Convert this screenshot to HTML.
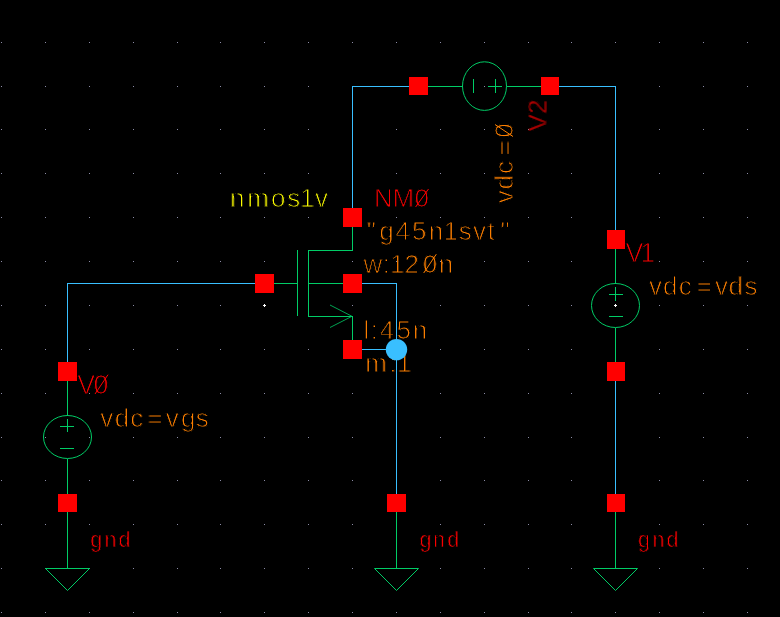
<!DOCTYPE html>
<html lang="en">
<head>
<meta charset="utf-8">
<title>nmos1v test schematic</title>
<style>
html,body{margin:0;padding:0;background:#000;}
body{width:780px;height:617px;overflow:hidden;}
svg{display:block;}
.w{stroke:#39bfff;stroke-width:1;fill:none;shape-rendering:crispEdges;}
.g{stroke:#00cc66;stroke-width:1;fill:none;shape-rendering:crispEdges;}
.ga{stroke:#00cc66;stroke-width:1;fill:none;}
.p{fill:#ff0000;shape-rendering:crispEdges;}
.d{fill:#8c8ca6;shape-rendering:crispEdges;}
text{font-family:"Liberation Sans",sans-serif;stroke:#000;}
.o{fill:#ff8000;}
.r{fill:#ff0000;}
.y{fill:#ffff00;}
</style>
</head>
<body>
<svg width="780" height="617" viewBox="0 0 780 617">
<defs>
<filter id="fo" filterUnits="userSpaceOnUse" x="0" y="0" width="780" height="617" color-interpolation-filters="sRGB">
<feColorMatrix in="SourceGraphic" type="matrix" values="0 0 0 0 0  0 0 0 0 0  0 0 0 0 0  1 0 0 0 0" result="m"/>
<feComponentTransfer in="m" result="t"><feFuncA type="gamma" amplitude="1.1" exponent="0.6" offset="0"/></feComponentTransfer>
<feFlood flood-color="#ff8000"/><feComposite in2="t" operator="in"/>
</filter>
<filter id="fr" filterUnits="userSpaceOnUse" x="0" y="0" width="780" height="617" color-interpolation-filters="sRGB">
<feColorMatrix in="SourceGraphic" type="matrix" values="0 0 0 0 0  0 0 0 0 0  0 0 0 0 0  1 0 0 0 0" result="m"/>
<feComponentTransfer in="m" result="t"><feFuncA type="gamma" amplitude="1.1" exponent="0.6" offset="0"/></feComponentTransfer>
<feFlood flood-color="#ff0000"/><feComposite in2="t" operator="in"/>
</filter>
<filter id="fy" filterUnits="userSpaceOnUse" x="0" y="0" width="780" height="617" color-interpolation-filters="sRGB">
<feColorMatrix in="SourceGraphic" type="matrix" values="0 0 0 0 0  0 0 0 0 0  0 0 0 0 0  1 0 0 0 0" result="m"/>
<feComponentTransfer in="m" result="t"><feFuncA type="gamma" amplitude="1.1" exponent="0.6" offset="0"/></feComponentTransfer>
<feFlood flood-color="#ffff00"/><feComposite in2="t" operator="in"/>
</filter>
</defs>
<rect x="0" y="0" width="780" height="617" fill="#000"/>
<g class="d">
<rect x="1" y="42" width="1" height="1"/><rect x="45" y="42" width="1" height="1"/><rect x="89" y="42" width="1" height="1"/><rect x="133" y="42" width="1" height="1"/><rect x="177" y="42" width="1" height="1"/><rect x="220" y="42" width="1" height="1"/><rect x="264" y="42" width="1" height="1"/><rect x="308" y="42" width="1" height="1"/><rect x="352" y="42" width="1" height="1"/><rect x="396" y="42" width="1" height="1"/><rect x="440" y="42" width="1" height="1"/><rect x="484" y="42" width="1" height="1"/><rect x="528" y="42" width="1" height="1"/><rect x="571" y="42" width="1" height="1"/><rect x="615" y="42" width="1" height="1"/><rect x="659" y="42" width="1" height="1"/><rect x="703" y="42" width="1" height="1"/><rect x="747" y="42" width="1" height="1"/>
<rect x="1" y="86" width="1" height="1"/><rect x="45" y="86" width="1" height="1"/><rect x="89" y="86" width="1" height="1"/><rect x="133" y="86" width="1" height="1"/><rect x="177" y="86" width="1" height="1"/><rect x="220" y="86" width="1" height="1"/><rect x="264" y="86" width="1" height="1"/><rect x="308" y="86" width="1" height="1"/><rect x="352" y="86" width="1" height="1"/><rect x="396" y="86" width="1" height="1"/><rect x="440" y="86" width="1" height="1"/><rect x="484" y="86" width="1" height="1"/><rect x="528" y="86" width="1" height="1"/><rect x="571" y="86" width="1" height="1"/><rect x="615" y="86" width="1" height="1"/><rect x="659" y="86" width="1" height="1"/><rect x="703" y="86" width="1" height="1"/><rect x="747" y="86" width="1" height="1"/>
<rect x="1" y="129" width="1" height="1"/><rect x="45" y="129" width="1" height="1"/><rect x="89" y="129" width="1" height="1"/><rect x="133" y="129" width="1" height="1"/><rect x="177" y="129" width="1" height="1"/><rect x="220" y="129" width="1" height="1"/><rect x="264" y="129" width="1" height="1"/><rect x="308" y="129" width="1" height="1"/><rect x="352" y="129" width="1" height="1"/><rect x="396" y="129" width="1" height="1"/><rect x="440" y="129" width="1" height="1"/><rect x="484" y="129" width="1" height="1"/><rect x="528" y="129" width="1" height="1"/><rect x="571" y="129" width="1" height="1"/><rect x="615" y="129" width="1" height="1"/><rect x="659" y="129" width="1" height="1"/><rect x="703" y="129" width="1" height="1"/><rect x="747" y="129" width="1" height="1"/>
<rect x="1" y="173" width="1" height="1"/><rect x="45" y="173" width="1" height="1"/><rect x="89" y="173" width="1" height="1"/><rect x="133" y="173" width="1" height="1"/><rect x="177" y="173" width="1" height="1"/><rect x="220" y="173" width="1" height="1"/><rect x="264" y="173" width="1" height="1"/><rect x="308" y="173" width="1" height="1"/><rect x="352" y="173" width="1" height="1"/><rect x="396" y="173" width="1" height="1"/><rect x="440" y="173" width="1" height="1"/><rect x="484" y="173" width="1" height="1"/><rect x="528" y="173" width="1" height="1"/><rect x="571" y="173" width="1" height="1"/><rect x="615" y="173" width="1" height="1"/><rect x="659" y="173" width="1" height="1"/><rect x="703" y="173" width="1" height="1"/><rect x="747" y="173" width="1" height="1"/>
<rect x="1" y="217" width="1" height="1"/><rect x="45" y="217" width="1" height="1"/><rect x="89" y="217" width="1" height="1"/><rect x="133" y="217" width="1" height="1"/><rect x="177" y="217" width="1" height="1"/><rect x="220" y="217" width="1" height="1"/><rect x="264" y="217" width="1" height="1"/><rect x="308" y="217" width="1" height="1"/><rect x="352" y="217" width="1" height="1"/><rect x="396" y="217" width="1" height="1"/><rect x="440" y="217" width="1" height="1"/><rect x="484" y="217" width="1" height="1"/><rect x="528" y="217" width="1" height="1"/><rect x="571" y="217" width="1" height="1"/><rect x="615" y="217" width="1" height="1"/><rect x="659" y="217" width="1" height="1"/><rect x="703" y="217" width="1" height="1"/><rect x="747" y="217" width="1" height="1"/>
<rect x="1" y="261" width="1" height="1"/><rect x="45" y="261" width="1" height="1"/><rect x="89" y="261" width="1" height="1"/><rect x="133" y="261" width="1" height="1"/><rect x="177" y="261" width="1" height="1"/><rect x="220" y="261" width="1" height="1"/><rect x="264" y="261" width="1" height="1"/><rect x="308" y="261" width="1" height="1"/><rect x="352" y="261" width="1" height="1"/><rect x="396" y="261" width="1" height="1"/><rect x="440" y="261" width="1" height="1"/><rect x="484" y="261" width="1" height="1"/><rect x="528" y="261" width="1" height="1"/><rect x="571" y="261" width="1" height="1"/><rect x="615" y="261" width="1" height="1"/><rect x="659" y="261" width="1" height="1"/><rect x="703" y="261" width="1" height="1"/><rect x="747" y="261" width="1" height="1"/>
<rect x="1" y="305" width="1" height="1"/><rect x="45" y="305" width="1" height="1"/><rect x="89" y="305" width="1" height="1"/><rect x="133" y="305" width="1" height="1"/><rect x="177" y="305" width="1" height="1"/><rect x="220" y="305" width="1" height="1"/><rect x="264" y="305" width="1" height="1"/><rect x="308" y="305" width="1" height="1"/><rect x="352" y="305" width="1" height="1"/><rect x="396" y="305" width="1" height="1"/><rect x="440" y="305" width="1" height="1"/><rect x="484" y="305" width="1" height="1"/><rect x="528" y="305" width="1" height="1"/><rect x="571" y="305" width="1" height="1"/><rect x="615" y="305" width="1" height="1"/><rect x="659" y="305" width="1" height="1"/><rect x="703" y="305" width="1" height="1"/><rect x="747" y="305" width="1" height="1"/>
<rect x="1" y="349" width="1" height="1"/><rect x="45" y="349" width="1" height="1"/><rect x="89" y="349" width="1" height="1"/><rect x="133" y="349" width="1" height="1"/><rect x="177" y="349" width="1" height="1"/><rect x="220" y="349" width="1" height="1"/><rect x="264" y="349" width="1" height="1"/><rect x="308" y="349" width="1" height="1"/><rect x="352" y="349" width="1" height="1"/><rect x="396" y="349" width="1" height="1"/><rect x="440" y="349" width="1" height="1"/><rect x="484" y="349" width="1" height="1"/><rect x="528" y="349" width="1" height="1"/><rect x="571" y="349" width="1" height="1"/><rect x="615" y="349" width="1" height="1"/><rect x="659" y="349" width="1" height="1"/><rect x="703" y="349" width="1" height="1"/><rect x="747" y="349" width="1" height="1"/>
<rect x="1" y="393" width="1" height="1"/><rect x="45" y="393" width="1" height="1"/><rect x="89" y="393" width="1" height="1"/><rect x="133" y="393" width="1" height="1"/><rect x="177" y="393" width="1" height="1"/><rect x="220" y="393" width="1" height="1"/><rect x="264" y="393" width="1" height="1"/><rect x="308" y="393" width="1" height="1"/><rect x="352" y="393" width="1" height="1"/><rect x="396" y="393" width="1" height="1"/><rect x="440" y="393" width="1" height="1"/><rect x="484" y="393" width="1" height="1"/><rect x="528" y="393" width="1" height="1"/><rect x="571" y="393" width="1" height="1"/><rect x="615" y="393" width="1" height="1"/><rect x="659" y="393" width="1" height="1"/><rect x="703" y="393" width="1" height="1"/><rect x="747" y="393" width="1" height="1"/>
<rect x="1" y="437" width="1" height="1"/><rect x="45" y="437" width="1" height="1"/><rect x="89" y="437" width="1" height="1"/><rect x="133" y="437" width="1" height="1"/><rect x="177" y="437" width="1" height="1"/><rect x="220" y="437" width="1" height="1"/><rect x="264" y="437" width="1" height="1"/><rect x="308" y="437" width="1" height="1"/><rect x="352" y="437" width="1" height="1"/><rect x="396" y="437" width="1" height="1"/><rect x="440" y="437" width="1" height="1"/><rect x="484" y="437" width="1" height="1"/><rect x="528" y="437" width="1" height="1"/><rect x="571" y="437" width="1" height="1"/><rect x="615" y="437" width="1" height="1"/><rect x="659" y="437" width="1" height="1"/><rect x="703" y="437" width="1" height="1"/><rect x="747" y="437" width="1" height="1"/>
<rect x="1" y="480" width="1" height="1"/><rect x="45" y="480" width="1" height="1"/><rect x="89" y="480" width="1" height="1"/><rect x="133" y="480" width="1" height="1"/><rect x="177" y="480" width="1" height="1"/><rect x="220" y="480" width="1" height="1"/><rect x="264" y="480" width="1" height="1"/><rect x="308" y="480" width="1" height="1"/><rect x="352" y="480" width="1" height="1"/><rect x="396" y="480" width="1" height="1"/><rect x="440" y="480" width="1" height="1"/><rect x="484" y="480" width="1" height="1"/><rect x="528" y="480" width="1" height="1"/><rect x="571" y="480" width="1" height="1"/><rect x="615" y="480" width="1" height="1"/><rect x="659" y="480" width="1" height="1"/><rect x="703" y="480" width="1" height="1"/><rect x="747" y="480" width="1" height="1"/>
<rect x="1" y="524" width="1" height="1"/><rect x="45" y="524" width="1" height="1"/><rect x="89" y="524" width="1" height="1"/><rect x="133" y="524" width="1" height="1"/><rect x="177" y="524" width="1" height="1"/><rect x="220" y="524" width="1" height="1"/><rect x="264" y="524" width="1" height="1"/><rect x="308" y="524" width="1" height="1"/><rect x="352" y="524" width="1" height="1"/><rect x="396" y="524" width="1" height="1"/><rect x="440" y="524" width="1" height="1"/><rect x="484" y="524" width="1" height="1"/><rect x="528" y="524" width="1" height="1"/><rect x="571" y="524" width="1" height="1"/><rect x="615" y="524" width="1" height="1"/><rect x="659" y="524" width="1" height="1"/><rect x="703" y="524" width="1" height="1"/><rect x="747" y="524" width="1" height="1"/>
<rect x="1" y="568" width="1" height="1"/><rect x="45" y="568" width="1" height="1"/><rect x="89" y="568" width="1" height="1"/><rect x="133" y="568" width="1" height="1"/><rect x="177" y="568" width="1" height="1"/><rect x="220" y="568" width="1" height="1"/><rect x="264" y="568" width="1" height="1"/><rect x="308" y="568" width="1" height="1"/><rect x="352" y="568" width="1" height="1"/><rect x="396" y="568" width="1" height="1"/><rect x="440" y="568" width="1" height="1"/><rect x="484" y="568" width="1" height="1"/><rect x="528" y="568" width="1" height="1"/><rect x="571" y="568" width="1" height="1"/><rect x="615" y="568" width="1" height="1"/><rect x="659" y="568" width="1" height="1"/><rect x="703" y="568" width="1" height="1"/><rect x="747" y="568" width="1" height="1"/>
<rect x="1" y="612" width="1" height="1"/><rect x="45" y="612" width="1" height="1"/><rect x="89" y="612" width="1" height="1"/><rect x="133" y="612" width="1" height="1"/><rect x="177" y="612" width="1" height="1"/><rect x="220" y="612" width="1" height="1"/><rect x="264" y="612" width="1" height="1"/><rect x="308" y="612" width="1" height="1"/><rect x="352" y="612" width="1" height="1"/><rect x="396" y="612" width="1" height="1"/><rect x="440" y="612" width="1" height="1"/><rect x="484" y="612" width="1" height="1"/><rect x="528" y="612" width="1" height="1"/><rect x="571" y="612" width="1" height="1"/><rect x="615" y="612" width="1" height="1"/><rect x="659" y="612" width="1" height="1"/><rect x="703" y="612" width="1" height="1"/><rect x="747" y="612" width="1" height="1"/>
</g>
<g fill="#ffffff" shape-rendering="crispEdges">
<rect x="264" y="304" width="1" height="3"/><rect x="263" y="305" width="3" height="1"/>
<rect x="615" y="304" width="1" height="3"/><rect x="614" y="305" width="3" height="1"/>
</g>
<g class="w">
<path d="M67.5 371.5V283.5H264.5"/>
<path d="M352.5 217.5V86.5H418.5"/>
<path d="M550.5 86.5H615.5V239.5"/>
<path d="M352.5 283.5H396.5V503"/>
<path d="M352.5 349.5H396.5"/>
<path d="M615.5 371.5V503"/>
</g>
<g>
<path class="g" d="M67.5 371.5V415.5 M67.5 458.5V503 M60 426.5H74 M67.5 419V432 M60 448.5H74"/>
<ellipse class="ga" cx="67.5" cy="437" rx="24" ry="21.5"/>
<path class="g" d="M615.5 239.5V283.5 M615.5 327.5V371.5 M609 294.5H623 M615.5 287V301 M609 316.5H623"/>
<ellipse class="ga" cx="615.5" cy="305.5" rx="24" ry="22"/>
<path class="g" d="M67.5 503V568.5"/>
<path class="ga" d="M45.5 568.5H89.5L67.5 590.5Z"/>
<path class="g" d="M396.5 503V568.5"/>
<path class="ga" d="M374.5 568.5H418.5L396.5 590.5Z"/>
<path class="g" d="M615.5 503V568.5"/>
<path class="ga" d="M593.5 568.5H637.5L615.5 590.5Z"/>
<path class="g" d="M418.5 86.5H462.5 M506.5 86.5H550.5 M473.5 79V93 M488 86.5H502 M495.5 79V93"/>
<ellipse class="ga" cx="484.5" cy="86.1" rx="22" ry="24.3"/>
<path class="g" d="M352.5 217.5V250.5H308.5V316.5H352.5V349.5 M264.5 283.5H297.5 M297.5 250V316 M308.5 283.5H352.5"/>
<path class="ga" d="M330 305L352 316.3L330 327.5" stroke-opacity="0.8"/>
</g>
<g class="p">
<rect x="58" y="362" width="19" height="19"/>
<rect x="58" y="494" width="19" height="18"/>
<rect x="255" y="274" width="19" height="19"/>
<rect x="343" y="208" width="19" height="19"/>
<rect x="343" y="274" width="19" height="19"/>
<rect x="343" y="340" width="19" height="19"/>
<rect x="387" y="494" width="19" height="18"/>
<rect x="409" y="77" width="19" height="18"/>
<rect x="541" y="77" width="18" height="18"/>
<rect x="607" y="230" width="18" height="19"/>
<rect x="607" y="362" width="18" height="19"/>
<rect x="607" y="494" width="18" height="18"/>
</g>
<g class="y" filter="url(#fy)">
<text x="230.1 247.3 271 287.2 299.9 315.1" y="207" font-size="26" stroke-width="1.38">nmos1v</text>
</g>
<g class="o" filter="url(#fo)">
<text x="366.8 379.3 395.4 412 428.8 443.4 458.8 473.1 487.6 500.4" y="239.8" font-size="26" stroke-width="1.38">&quot;g45n1svt&quot;</text>
<text x="363.5 382.7 390.1 404.4 422.8 438.8" y="272.9" font-size="26" stroke-width="1.38">w:120n</text>
<text x="363.4 370.8 379.7 396.4 412.7" y="339.2" font-size="26" stroke-width="1.38">l:45n</text>
<text x="365.2 389.3 397.1" y="371.9" font-size="26" stroke-width="1.38">m:1</text>
<text x="649.1 662.9 678.8 696.8 715 728.5 744.5" y="294.6" font-size="26" stroke-width="1.38">vdc=vds</text>
<text x="100.3 114.7 130.3 147.5 165.8 181 195.7" y="426.8" font-size="26" stroke-width="1.38">vdc=vgs</text>
<text x="513.8 527.6 543 561.3 579.3" y="204" font-size="26" stroke-width="1.38" transform="rotate(-90 513 204)">vdc=0</text>
</g>
<g class="r" filter="url(#fr)">
<text x="373.9 392.6 414.6" y="207" font-size="26" stroke-width="1.38">NM0</text>
<text x="625.5 640.3" y="261.8" font-size="26.8" stroke-width="1.42">V1</text>
<text x="77.2 93.5" y="394" font-size="26.8" stroke-width="1.42">V0</text>
<text x="90.2 104.6 118.5" y="547" font-size="21.5" stroke-width="1.07">gnd</text>
<text x="419.4 432.9 447.3" y="547" font-size="21.5" stroke-width="1.07">gnd</text>
<text x="638 652.6 666.5" y="547" font-size="21.5" stroke-width="1.07">gnd</text>
<text x="546 563.5" y="131" font-size="26" stroke-width="1.56" transform="rotate(-90 546.5 131)">V2</text>
</g>
<g fill="none" stroke-width="1">
<path stroke="#ff0000" d="M415.6 207L428.5 189 M95 394L108 374.7"/>
<path stroke="#ff8000" d="M423.7 273L436.3 254.2 M495 124.5L513 136.5"/>
</g>
<circle cx="396.5" cy="349.6" r="10.7" fill="#39bfff"/>
</svg>
</body>
</html>
